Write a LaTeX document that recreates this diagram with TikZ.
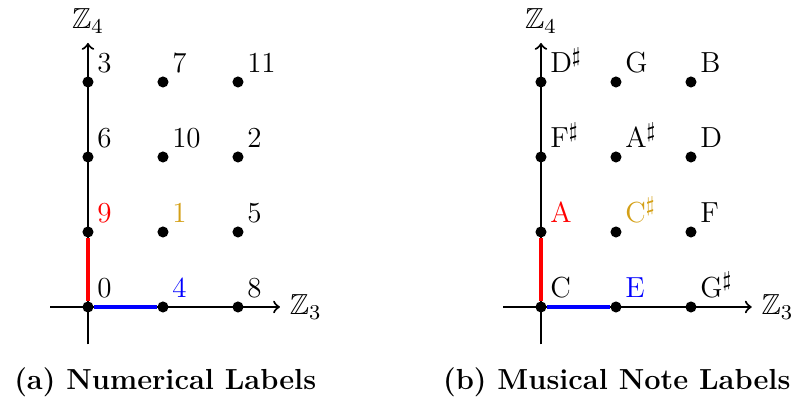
\documentclass[tikz,border=0pt]{standalone}
\usepackage{amssymb}
\definecolor{oro}{RGB}{212,160,23}
\newcommand{\nota}[2]{\textrm{#1}$^{#2}$}
\begin{document}
\begin{tikzpicture}[
    every node/.style={font=\fontsize{11}{13.6}\selectfont},
    punto/.style={circle, fill=black, inner sep=0pt, minimum size=4.2pt},
    eje/.style={->, thick},
    gen/.style={line width=1.5pt},
    etiq/.style={above right},
    titulo/.style={font=\fontsize{11}{13.6}\selectfont\bfseries}]
    \useasboundingbox (-1.173,-1.2) rectangle (9.427,4.093);

    % (a) Etiquetas numericas
    \begin{scope}
        \coordinate (ax-ini) at (-0.5,0);
        \coordinate (ax-fin) at (2.56,0);
        \coordinate (ay-ini) at (0,-0.5);
        \coordinate (ay-fin) at (0,3.52);
        \draw[eje] (ax-ini) -- (ax-fin) node[right] (az3) {$\mathbb{Z}_3$};
        \draw[eje] (ay-ini) -- (ay-fin) node[above] (az4) {$\mathbb{Z}_4$};
        \foreach \i/\j/\t/\c in {0/0/0/black, 1/0/4/blue, 2/0/8/black,
                                 0/1/9/red, 1/1/1/oro, 2/1/5/black,
                                 0/2/6/black, 1/2/10/black, 2/2/2/black,
                                 0/3/3/black, 1/3/7/black, 2/3/11/black} {
            \node[punto] (a-\i-\j) at (\i,\j) {};
            \node[etiq, text=\c] (at-\i-\j) at (a-\i-\j) {\t};
        }
        % generadores
        \draw[gen, red] (a-0-0) -- (a-0-1);
        \draw[gen, blue] (a-0-0) -- (a-1-0);
        \node[titulo] (acap) at (1.03,-1.01) {(a) Numerical Labels};
    \end{scope}

    % (b) Etiquetas de notas
    \begin{scope}[xshift=6.04cm]
        \coordinate (bx-ini) at (-0.5,0);
        \coordinate (bx-fin) at (2.81,0);
        \coordinate (by-ini) at (0,-0.5);
        \coordinate (by-fin) at (0,3.52);
        \draw[eje] (bx-ini) -- (bx-fin) node[right] (bz3) {$\mathbb{Z}_3$};
        \draw[eje] (by-ini) -- (by-fin) node[above] (bz4) {$\mathbb{Z}_4$};
        \foreach \i/\j/\t/\c in {0/0/C/black, 1/0/E/blue, 2/0/\nota{G}{\sharp}/black,
                                 0/1/A/red, 1/1/\nota{C}{\sharp}/oro, 2/1/F/black,
                                 0/2/\nota{F}{\sharp}/black, 1/2/\nota{A}{\sharp}/black, 2/2/D/black,
                                 0/3/\nota{D}{\sharp}/black, 1/3/G/black, 2/3/B/black} {
            \node[punto] (b-\i-\j) at (\i,\j) {};
            \node[etiq, text=\c] (bt-\i-\j) at (b-\i-\j) {\t};
        }
        % generadores
        \draw[gen, red] (b-0-0) -- (b-0-1);
        \draw[gen, blue] (b-0-0) -- (b-1-0);
        \node[titulo] (bcap) at (1.01,-1.01) {(b) Musical Note Labels};
    \end{scope}
\end{tikzpicture}
\end{document}
